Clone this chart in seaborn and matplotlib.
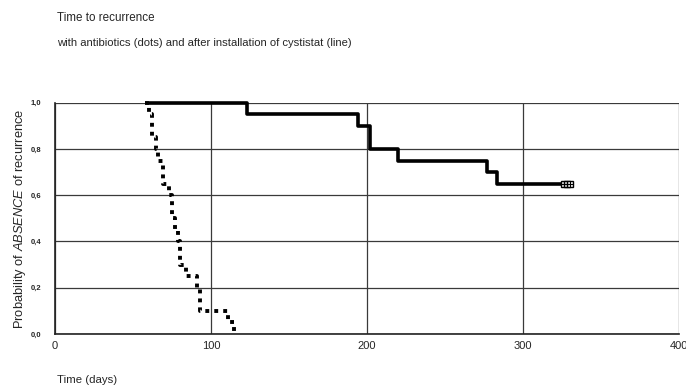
import numpy as np
import pandas as pd
import matplotlib
matplotlib.use("Agg")
import matplotlib.pyplot as plt
import seaborn as sns

# Kaplan-Meier step data
cyst_time = [0, 60, 123, 194, 202, 220, 277, 283, 330]
cyst_surv = [1.0, 1.0, 0.95, 0.90, 0.80, 0.75, 0.70, 0.65, 0.65]
cyst_censor_time = [326, 328, 330]
cyst_censor_surv = [0.65, 0.65, 0.65]

abx_time = [58, 60, 62, 65, 66, 69, 73, 75, 77, 79, 80, 84, 91, 93, 111, 115, 115.5]
abx_surv = [1.0, 0.95, 0.85, 0.80, 0.75, 0.65, 0.60, 0.50, 0.45, 0.40, 0.30, 0.25,
            0.20, 0.10, 0.05, 0.0, 0.0]

x_ticks = [0, 100, 200, 300, 400]
y_ticks = [0.0, 0.2, 0.4, 0.6, 0.8, 1.0]
y_tick_labels = ["0,0", "0,2", "0,4", "0,6", "0,8", "1,0"]

sns.set_style("white")
plt.rcParams['font.family'] = ['Liberation Sans', 'DejaVu Sans']
plt.rcParams['mathtext.fontset'] = 'custom'
plt.rcParams['mathtext.it'] = 'Liberation Sans:italic'
plt.rcParams['mathtext.rm'] = 'Liberation Sans'

fig = plt.figure(figsize=(6.86, 3.91), dpi=100)
ax = fig.add_axes([0.080, 0.146, 0.910, 0.591])

cyst = pd.DataFrame({"time": cyst_time, "surv": cyst_surv})
abx = pd.DataFrame({"time": abx_time, "surv": abx_surv})

sns.lineplot(data=cyst[cyst.time >= 60], x="time", y="surv", ax=ax, color="black",
             linewidth=2.6, drawstyle="steps-post", estimator=None, sort=False,
             clip_on=False)
sns.lineplot(data=abx, x="time", y="surv", ax=ax, color="black",
             linewidth=2.8, linestyle=(0, (1.0, 1.3)), drawstyle="steps-post",
             estimator=None, sort=False, clip_on=False)
ax.plot(cyst_censor_time, cyst_censor_surv, linestyle="none", marker="s",
        markersize=5, markerfacecolor="white", markeredgecolor="black", markeredgewidth=1)
ax.plot(cyst_censor_time, cyst_censor_surv, linestyle="none", marker="+",
        markersize=4, color="black", markeredgewidth=0.8)

ax.set_xlim(0, 400)
ax.set_ylim(0, 1.0)
ax.set_xticks(x_ticks)
ax.set_xticklabels([str(t) for t in x_ticks], fontsize=8)
ax.set_yticks(y_ticks)
ax.set_yticklabels(y_tick_labels, fontsize=5.5, fontweight="bold")
ax.grid(True, color="#3a3a3a", linewidth=0.9)
ax.set_axisbelow(True)
for side in ["top", "right"]:
    ax.spines[side].set_visible(False)
for side in ["left", "bottom"]:
    ax.spines[side].set_color("#222222")
    ax.spines[side].set_linewidth(1.2)
ax.tick_params(axis="both", length=2, width=1.5, color="black", pad=3)
ax.tick_params(axis="y", pad=8)
ax.set_xlabel("")
ax.set_ylabel(r"Probability of $\mathit{ABSENCE}$ of recurrence", fontsize=9.3, labelpad=2)

fig.text(0.083, 0.955, "Time to recurrence", fontsize=8.4, ha="left", va="center")
fig.text(0.083, 0.89, "with antibiotics (dots) and after installation of cystistat (line)",
         fontsize=8.1, ha="left", va="center")
fig.text(0.083, 0.027, "Time (days)", fontsize=8.2, ha="left", va="center")

fig.savefig("out.png", dpi=100)
